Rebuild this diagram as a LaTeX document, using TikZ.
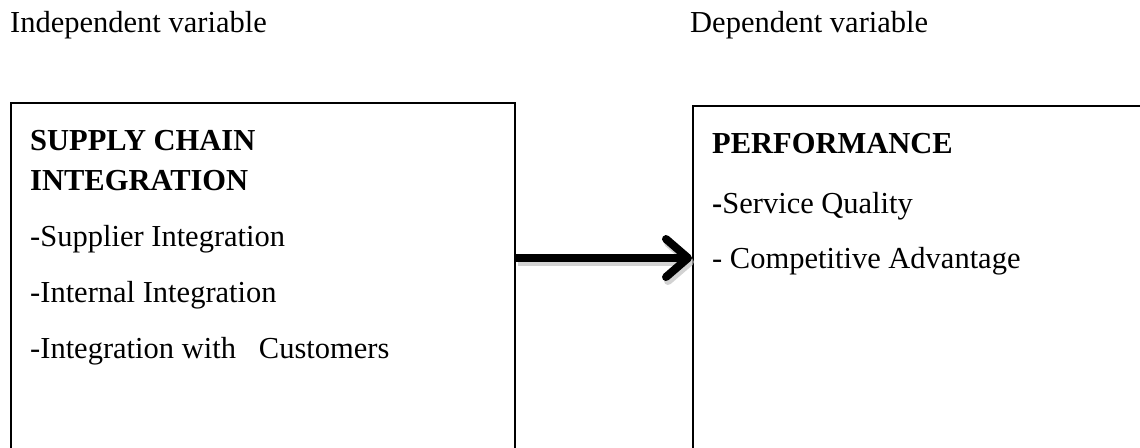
\documentclass[tikz,border=0pt]{standalone}
\usepackage{fontspec}
\setmainfont{Liberation Serif}
\usetikzlibrary{arrows.meta, positioning}

\begin{document}
\begin{tikzpicture}[x=1pt, y=-1pt,
	lbl/.style={anchor=base west, inner sep=0pt, font=\fontsize{30.5}{36}\selectfont},
	headlbl/.style={lbl, font=\fontsize{30.5}{36}\selectfont\bfseries},
	frame/.style={draw, line width=2pt, rectangle, anchor=north west, inner sep=0pt, minimum height=420pt},
	bigarrow/.style={line width=8pt, -{Straight Barb[length=22pt, width=38pt, round]}}]
	\useasboundingbox (0,0) rectangle (1140,447);
	\clip (0,0) rectangle (1140,447);
	% the two boxes run off the page
	\node [frame, minimum width=504pt] (scibox) at (10,102) {};
	\node [frame, minimum width=500pt] (perfbox) at (692,105) {};

	\node [lbl] (indep) at (10,32) {Independent variable};
	\node [lbl] (dep) at (690,32) {Dependent variable};

	\node [headlbl] (sci) at (30,150) {SUPPLY CHAIN};
	\node [headlbl] (sci2) at (30,190) {INTEGRATION};
	\node [lbl] (supp) at (30,246) {-Supplier Integration};
	\node [lbl] (intern) at (30,302) {-Internal Integration};
	\node [lbl] (cust) at (30,358) {-Integration with\ \ \ Customers};

	\node [headlbl] (perf) at (712,153) {PERFORMANCE};
	\node [lbl] (qual) at (712,213) {\textbf{-}Service Quality};
	\node [lbl] (comp) at (712,268) {- Competitive Advantage};

	\coordinate (arrowrow) at (0,258);
	\draw [bigarrow, black!25, opacity=0.7, transform canvas={shift={(2pt,-4pt)}}]
		(scibox.north east |- arrowrow) -- (perfbox.north west |- arrowrow);
	\draw [bigarrow] (scibox.north east |- arrowrow) -- (perfbox.north west |- arrowrow);
\end{tikzpicture}
\end{document}
